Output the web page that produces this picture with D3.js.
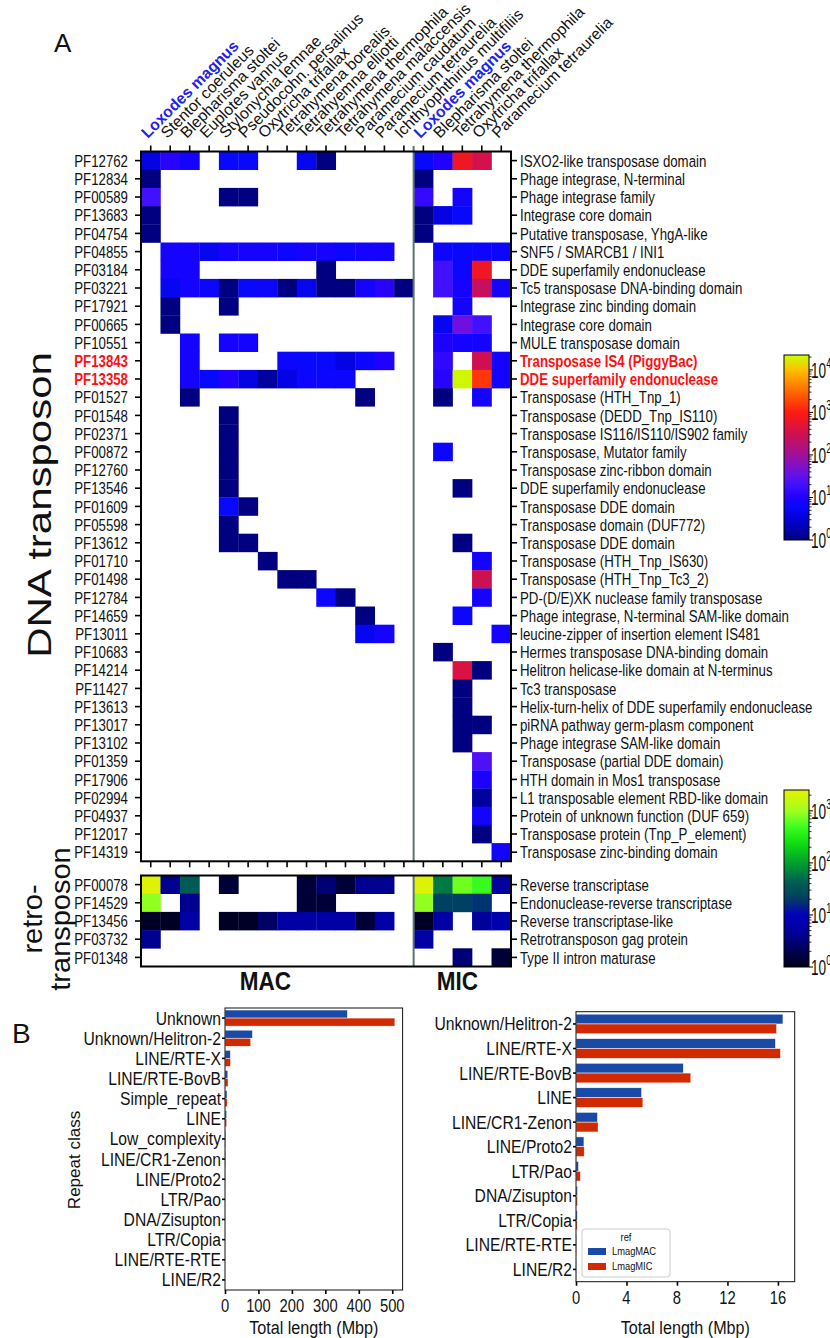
<!DOCTYPE html>
<html><head><meta charset="utf-8">
<script src="https://cdn.jsdelivr.net/npm/d3@7"></script>
<style>body{margin:0;background:#fff}svg{display:block}text{font-family:"Liberation Sans",Arial,Helvetica,sans-serif}</style>
</head><body><svg id="c" width="830" height="1338"></svg>
<script>
// ---------------- DATA ----------------
const macSpecies = ["Loxodes magnus","Stentor coeruleus","Blepharisma stoltei","Euplotes vannus","Stylonychia lemnae","Pseudocohn. persalinus","Oxytricha trifallax","Tetrahymena borealis","Tetrahyemna elliotti","Tetrahymena thermophila","Tetrahymena malaccensis","Paramecium caudatum","Paramecium tetraurelia","Ichthyophthirius multifiliis"];
const micSpecies = ["Loxodes magnus","Blepharisma stoltei","Tetrahymena thermophila","Oxytricha trifallax","Paramecium tetraurelia"];
const highlightSpecies = ["Loxodes magnus"];
const dnaIds = ["PF12762","PF12834","PF00589","PF13683","PF04754","PF04855","PF03184","PF03221","PF17921","PF00665","PF10551","PF13843","PF13358","PF01527","PF01548","PF02371","PF00872","PF12760","PF13546","PF01609","PF05598","PF13612","PF01710","PF01498","PF12784","PF14659","PF13011","PF10683","PF14214","PF11427","PF13613","PF13017","PF13102","PF01359","PF17906","PF02994","PF04937","PF12017","PF14319"];
const dnaNames = ["ISXO2-like transposase domain","Phage integrase, N-terminal","Phage integrase family","Integrase core domain","Putative transposase, YhgA-like","SNF5 / SMARCB1 / INI1","DDE superfamily endonuclease","Tc5 transposase DNA-binding domain","Integrase zinc binding domain","Integrase core domain","MULE transposase domain","Transposase IS4 (PiggyBac)","DDE superfamily endonuclease","Transposase (HTH_Tnp_1)","Transposase (DEDD_Tnp_IS110)","Transposase IS116/IS110/IS902 family","Transposase, Mutator family","Transposase zinc-ribbon domain","DDE superfamily endonuclease","Transposase DDE domain","Transposase domain (DUF772)","Transposase DDE domain","Transposase (HTH_Tnp_IS630)","Transposase (HTH_Tnp_Tc3_2)","PD-(D/E)XK nuclease family transposase","Phage integrase, N-terminal SAM-like domain","leucine-zipper of insertion element IS481","Hermes transposase DNA-binding domain","Helitron helicase-like domain at N-terminus","Tc3 transposase","Helix-turn-helix of DDE superfamily endonuclease","piRNA pathway germ-plasm component","Phage integrase SAM-like domain","Transposase (partial DDE domain)","HTH domain in Mos1 transposase","L1 transposable element RBD-like domain","Protein of unknown function (DUF 659)","Transposase protein (Tnp_P_element)","Transposase zinc-binding domain"];
const retroIds = ["PF00078","PF14529","PF13456","PF03732","PF01348"];
const retroNames = ["Reverse transcriptase","Endonuclease-reverse transcriptase","Reverse transcriptase-like","Retrotransposon gag protein","Type II intron maturase"];
const highlightIds = ["PF13843","PF13358"];
// counts per row: 14 MAC columns then 5 MIC columns (0 = absent)
const dnaCounts = [
 [4,12,8,0,6,6,0,0,5,1,0,0,0,0, 6,10,700,350,0],
 [1,0,0,0,0,0,0,0,0,0,0,0,0,0, 1,0,0,0,0],
 [20,0,0,0,1,1,0,0,0,0,0,0,0,0, 15,0,8,0,0],
 [1,0,0,0,0,0,0,0,0,0,0,0,0,0, 1,4,6,0,0],
 [1,0,0,0,0,0,0,0,0,0,0,0,0,0, 1,0,0,0,0],
 [0,8,8,5,8,8,8,7,8,8,7,8,8,0, 0,7,6,7,7],
 [0,8,8,0,0,0,0,0,0,1,0,0,0,0, 0,20,7,700,0],
 [0,5,8,7,1,6,7,1,5,1,1,8,12,1, 0,20,8,250,8],
 [0,1,0,0,1,0,0,0,0,0,0,0,0,0, 0,0,8,0,0],
 [0,1,0,0,0,0,0,0,0,0,0,0,0,0, 0,5,40,20,0],
 [0,0,8,0,8,8,0,0,0,0,0,0,0,0, 0,9,8,8,0],
 [0,0,8,0,0,0,0,7,6,6,4,7,10,0, 0,14,0,300,8],
 [0,0,8,6,10,4,1.5,4,7,7,7,0,0,0, 0,12,20000,1500,8],
 [0,0,1,0,0,0,0,0,0,0,0,1,0,0, 0,1,0,8,0],
 [0,0,0,0,1,0,0,0,0,0,0,0,0,0, 0,0,0,0,0],
 [0,0,0,0,1,0,0,0,0,0,0,0,0,0, 0,0,0,0,0],
 [0,0,0,0,1,0,0,0,0,0,0,0,0,0, 0,7,0,0,0],
 [0,0,0,0,1,0,0,0,0,0,0,0,0,0, 0,0,0,0,0],
 [0,0,0,0,1,0,0,0,0,0,0,0,0,0, 0,0,1,0,0],
 [0,0,0,0,6,1,0,0,0,0,0,0,0,0, 0,0,0,0,0],
 [0,0,0,0,1,0,0,0,0,0,0,0,0,0, 0,0,0,0,0],
 [0,0,0,0,1,1,0,0,0,0,0,0,0,0, 0,0,1,0,0],
 [0,0,0,0,0,0,1,0,0,0,0,0,0,0, 0,0,0,8,0],
 [0,0,0,0,0,0,0,1,1,0,0,0,0,0, 0,0,0,300,0],
 [0,0,0,0,0,0,0,0,0,7,1,0,0,0, 0,0,0,8,0],
 [0,0,0,0,0,0,0,0,0,0,0,1,0,0, 0,0,7,0,0],
 [0,0,0,0,0,0,0,0,0,0,0,5,8,0, 0,0,0,0,8],
 [0,0,0,0,0,0,0,0,0,0,0,0,0,0, 0,1,0,0,0],
 [0,0,0,0,0,0,0,0,0,0,0,0,0,0, 0,0,400,1,0],
 [0,0,0,0,0,0,0,0,0,0,0,0,0,0, 0,0,1,0,0],
 [0,0,0,0,0,0,0,0,0,0,0,0,0,0, 0,0,1,0,0],
 [0,0,0,0,0,0,0,0,0,0,0,0,0,0, 0,0,1,1,0],
 [0,0,0,0,0,0,0,0,0,0,0,0,0,0, 0,0,1,0,0],
 [0,0,0,0,0,0,0,0,0,0,0,0,0,0, 0,0,0,25,0],
 [0,0,0,0,0,0,0,0,0,0,0,0,0,0, 0,0,0,9,0],
 [0,0,0,0,0,0,0,0,0,0,0,0,0,0, 0,0,0,1.5,0],
 [0,0,0,0,0,0,0,0,0,0,0,0,0,0, 0,0,0,8,0],
 [0,0,0,0,0,0,0,0,0,0,0,0,0,0, 0,0,0,1,0],
 [0,0,0,0,0,0,0,0,0,0,0,0,0,0, 0,0,0,0,8]
];
const retroCounts = [
 [2200,4,40,0,1.5,0,0,0,1.5,3,1.5,4,4,0, 2200,60,700,450,5],
 [900,0,4,0,0,0,0,0,1.5,1.5,0,0,0,0, 900,22,22,18,0],
 [1.2,1.2,6,0,1.2,1.2,2.5,6,6,6,6,1.5,6,0, 1.2,6,0,5,7],
 [4,0,0,0,0,0,0,0,0,0,0,0,0,0, 6,0,0,0,0],
 [0,0,0,0,0,0,0,0,0,0,0,0,0,0, 0,0,3,0,1.5]
];
const dnaTicks = [0,1,2,3,4];
const retroTicks = [0,1,2,3];
// Repeat classes (Mbp)
const leftClasses = ["Unknown","Unknown/Helitron-2","LINE/RTE-X","LINE/RTE-BovB","Simple_repeat","LINE","Low_complexity","LINE/CR1-Zenon","LINE/Proto2","LTR/Pao","DNA/Zisupton","LTR/Copia","LINE/RTE-RTE","LINE/R2"];
const leftMAC = [366,82,16,8.5,6,5.2,2.2,1.7,0.63,0.2,0.12,0.1,0.03,0.02];
const leftMIC = [508,77,16.5,9.1,6.5,5.3,2.3,1.75,0.65,0.35,0.12,0.1,0.03,0.02];
const rightClasses = ["Unknown/Helitron-2","LINE/RTE-X","LINE/RTE-BovB","LINE","LINE/CR1-Zenon","LINE/Proto2","LTR/Pao","DNA/Zisupton","LTR/Copia","LINE/RTE-RTE","LINE/R2"];
const rightMAC = [16.4,15.8,8.5,5.2,1.7,0.63,0.2,0.12,0.1,0.03,0.02];
const rightMIC = [15.9,16.2,9.1,5.3,1.75,0.65,0.35,0.12,0.1,0.03,0.02];
const leftTicks = [0,100,200,300,400,500];
const rightTicks = [0,4,8,12,16];
const seriesNames = ["LmagMAC","LmagMIC"];

// ---------------- DRAW ----------------
const svg = d3.select("#c");
svg.append("rect").attr("width",830).attr("height",1338).attr("fill","#fff");

function stext(parent,x,y,str,o={}){
  const g = parent.append("g").attr("transform",`translate(${x},${y}) scale(${o.sx||1},1)`+(o.rotate?` rotate(${o.rotate})`:""));
  const t = g.append("text").attr("font-size",o.size||16).attr("text-anchor",o.anchor||"start")
    .attr("font-weight",o.weight||"normal").attr("fill",o.fill||"#111");
  if(o.dy) t.attr("dy",o.dy);
  t.text(str);
  return t;
}

const species = macSpecies.concat(micSpecies);
const nCol = species.length;
const x = d3.scaleBand().domain(d3.range(nCol)).range([141,511]);
const bw = x.bandwidth();
const yD = d3.scaleBand().domain(dnaIds).range([151.5,861.3]);
const yR = d3.scaleBand().domain(retroIds).range([875.5,966.5]);

const dnaColor = d3.scaleLinear()
  .domain([0,0.45,0.8,1.0,1.3,1.6,2.0,2.5,3.0,3.5,4.0,4.35])
  .range(["#000080","#0000d0","#0808ff","#2000ff","#4010ff","#7010e0","#a0109a","#d01050","#ff1a10","#ff6a00","#ffc000","#c8ff00"])
  .clamp(true);
const retroColor = d3.scaleLinear()
  .domain([0,0.3,0.6,1.0,1.3,1.6,2.0,2.4,2.7,3.0,3.4])
  .range(["#000018","#000050","#000090","#0000c0","#003c64","#005a55","#00a030","#10e010","#40ff20","#a0ff20","#e8f000"])
  .clamp(true);

function drawPanel(ids, counts, y, color){
  const g = svg.append("g");
  ids.forEach((id,r)=>{
    counts[r].forEach((v,c)=>{
      if(v>0) g.append("rect").attr("x",x(c)).attr("y",y(id)).attr("width",bw+0.3).attr("height",y.bandwidth()+0.3)
        .attr("fill",color(Math.log10(v)));
    });
  });
  return g;
}
drawPanel(dnaIds,dnaCounts,yD,dnaColor);
drawPanel(retroIds,retroCounts,yR,retroColor);

// separator
const sepX = x(macSpecies.length);
svg.append("line").attr("x1",sepX).attr("x2",sepX).attr("y1",146).attr("y2",861.3).attr("stroke","#5f7272").attr("stroke-width",2);
svg.append("line").attr("x1",sepX).attr("x2",sepX).attr("y1",875.5).attr("y2",966.5).attr("stroke","#5f7272").attr("stroke-width",2);

// frames
[[151.5,861.3],[875.5,966.5]].forEach(([a,b])=>{
  svg.append("rect").attr("x",141).attr("y",a).attr("width",370).attr("height",b-a).attr("fill","none").attr("stroke","#000").attr("stroke-width",2);
});

// axes ticks
function ticksOnly(axis){ return g=>{ g.call(axis); g.select(".domain").remove(); g.selectAll(".tick line").attr("stroke","#000").attr("stroke-width",1.6); g.selectAll(".tick text").remove(); }; }
svg.append("g").attr("transform","translate(141,0)").call(ticksOnly(d3.axisLeft(yD).tickSize(6)));
svg.append("g").attr("transform","translate(511,0)").call(ticksOnly(d3.axisRight(yD).tickSize(6)));
svg.append("g").attr("transform","translate(141,0)").call(ticksOnly(d3.axisLeft(yR).tickSize(6)));
svg.append("g").attr("transform","translate(511,0)").call(ticksOnly(d3.axisRight(yR).tickSize(6)));
svg.append("g").attr("transform","translate(0,151.5)").call(ticksOnly(d3.axisTop(x).tickSize(6)));
svg.append("g").attr("transform","translate(0,861.3)").call(ticksOnly(d3.axisBottom(x).tickSize(6)));

// row labels
const rowSx = 0.78;
function rowLabels(ids,names,y){
  ids.forEach((id,i)=>{
    const hl = highlightIds.includes(id);
    const cy = y(id)+y.bandwidth()/2;
    stext(svg,128,cy,id,{size:17,sx:rowSx,anchor:"end",dy:"0.36em",fill:hl?"#ff1010":"#111",weight:hl?"bold":"normal"});
    stext(svg,520,cy,names[i],{size:17,sx:rowSx,anchor:"start",dy:"0.36em",fill:hl?"#ff1010":"#111",weight:hl?"bold":"normal"});
  });
}
rowLabels(dnaIds,dnaNames,yD);
rowLabels(retroIds,retroNames,yR);

// column labels
species.forEach((s,i)=>{
  const hl = highlightSpecies.includes(s);
  stext(svg,x(i)+bw/2-3,139,s,{size:15.8,rotate:-45,fill:hl?"#2222ee":"#111",weight:hl?"bold":"normal"});
});

// panel titles
stext(svg,54,52,"A",{size:26,fill:"#111"});
stext(svg,51,505,"DNA transposon",{size:42,sx:0.8,rotate:-90,anchor:"middle",fill:"#111"});
stext(svg,42,919,"retro-",{size:29,sx:0.95,rotate:-90,anchor:"middle",fill:"#111"});
stext(svg,70,919,"transposon",{size:29,sx:0.95,rotate:-90,anchor:"middle",fill:"#111"});
stext(svg,(x(0)+x(13)+bw)/2-12,990,"MAC",{size:25,sx:0.9,anchor:"middle",weight:"bold"});
stext(svg,(x(14)+x(18)+bw)/2-5,990,"MIC",{size:25,sx:0.9,anchor:"middle",weight:"bold"});

// colorbars
const defs = svg.append("defs");
function colorbar(id,color,maxLog,ticks,x0,yTop,yBot){
  const grad = defs.append("linearGradient").attr("id",id).attr("x1",0).attr("x2",0).attr("y1",1).attr("y2",0);
  d3.range(0,1.0001,0.02).forEach(t=>grad.append("stop").attr("offset",t).attr("stop-color",color(t*maxLog)));
  const s = d3.scaleLinear().domain([0,maxLog]).range([yBot,yTop]);
  svg.append("rect").attr("x",x0).attr("y",yTop).attr("width",25).attr("height",yBot-yTop).attr("fill",`url(#${id})`).attr("stroke","#000").attr("stroke-width",1);
  const g = svg.append("g");
  ticks.forEach(k=>{
    g.append("line").attr("x1",x0+25).attr("x2",x0+29).attr("y1",s(k)).attr("y2",s(k)).attr("stroke","#000").attr("stroke-width",1);
    d3.range(2,10).forEach(m=>{const l=k+Math.log10(m); if(l<maxLog) g.append("line").attr("x1",x0+25).attr("x2",x0+27.5).attr("y1",s(l)).attr("y2",s(l)).attr("stroke","#000").attr("stroke-width",0.8);});
    const t = stext(g,x0+27,s(k)+8,"",{size:22,sx:0.62,fill:"#111"});
    t.append("tspan").text("10");
    t.append("tspan").attr("dy",-10).attr("font-size",15).text(k);
  });
}
colorbar("cb1",dnaColor,4.35,dnaTicks,784,355,540);
colorbar("cb2",retroColor,3.4,retroTicks,784,790,967);

// ---------------- PANEL B ----------------
const blue = "#1a4aa8", red = "#d12a00";
stext(svg,12,1043,"B",{size:28,fill:"#111"});

function barChart(classes,mac,mic,ticks,xmax,x0,x1,y0,y1){
  const xs = d3.scaleLinear().domain([0,xmax]).range([x0,x1]);
  const ys = d3.scaleBand().domain(classes).range([y0,y1]);
  const bh = ys.bandwidth()*0.4;
  const g = svg.append("g");
  classes.forEach((c,i)=>{
    const cy = ys(c)+ys.bandwidth()/2;
    g.append("rect").attr("x",xs(0)).attr("y",cy-bh).attr("width",xs(mac[i])-xs(0)).attr("height",bh).attr("fill",blue).attr("stroke","#fff").attr("stroke-width",0.5);
    g.append("rect").attr("x",xs(0)).attr("y",cy).attr("width",xs(mic[i])-xs(0)).attr("height",bh).attr("fill",red).attr("stroke","#fff").attr("stroke-width",0.5);
    stext(svg,x0-4,cy,c,{size:18,sx:0.87,anchor:"end",dy:"0.36em"});
  });
  svg.append("g").attr("transform",`translate(${x0},0)`).call(ticksOnly(d3.axisLeft(ys).tickSize(3)));
  svg.append("g").attr("transform",`translate(0,${y1})`).call(ticksOnly(d3.axisBottom(xs).tickValues(ticks).tickSize(4)));
  ticks.forEach(t=>stext(svg,xs(t),y1+22,String(t),{size:18,sx:0.82,anchor:"middle"}));
  svg.append("rect").attr("x",x0).attr("y",y0).attr("width",x1-x0).attr("height",y1-y0).attr("fill","none").attr("stroke","#111").attr("stroke-width",1);
  stext(svg,(x0+x1)/2,1334,"Total length (Mbp)",{size:19,sx:0.85,anchor:"middle"});
  return {xs,ys};
}
barChart(leftClasses,leftMAC,leftMIC,leftTicks,531,225,402.6,1008,1290);
barChart(rightClasses,rightMAC,rightMIC,rightTicks,17.33,576,794.7,1011.7,1281.7);
stext(svg,80,1160,"Repeat class",{size:17,sx:1,rotate:-90,anchor:"middle"});

// legend
const lg = svg.append("g");
lg.append("rect").attr("x",582).attr("y",1229).attr("width",88).attr("height",48).attr("rx",3).attr("fill","#fff").attr("stroke","#ccc");
stext(lg,626,1241,"ref",{size:11,sx:0.85,anchor:"middle"});
[blue,red].forEach((c,i)=>{
  lg.append("rect").attr("x",588).attr("y",1248+i*15).attr("width",18).attr("height",7).attr("fill",c);
  stext(lg,612,1255+i*15,seriesNames[i],{size:11,sx:0.85});
});
</script></body></html>
